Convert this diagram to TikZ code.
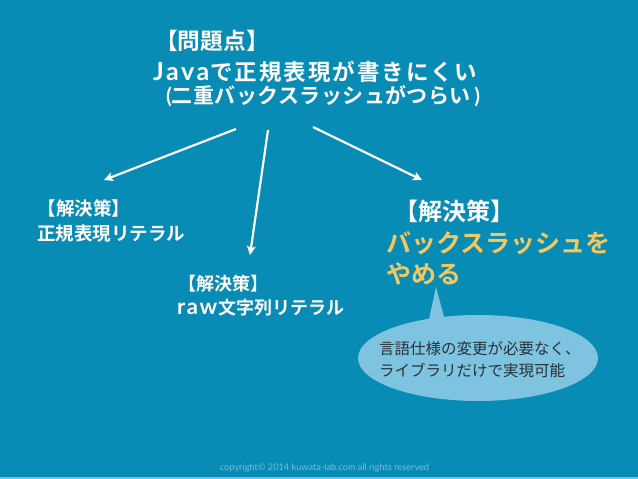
\documentclass[tikz,border=0pt]{standalone}
\usepackage{fontspec}
\setmainfont{Noto Sans CJK JP}[BoldFont={Noto Sans CJK JP Bold}]
\newfontfamily\latofont{Lato}
\usetikzlibrary{arrows.meta,shapes.geometric}
\definecolor{bg}{RGB}{8,139,180}
\definecolor{bubble}{RGB}{126,195,223}
\definecolor{gold}{RGB}{242,200,96}
\definecolor{strip}{RGB}{110,195,225}
\definecolor{foot}{RGB}{120,190,215}
\definecolor{bubbleink}{RGB}{40,50,55}
\newcommand{\fsz}[1]{\fontsize{#1}{#1}\selectfont}
\begin{document}
\begin{tikzpicture}[x=1pt,y=-1pt,
  txt/.style={anchor=base west,inner sep=0pt,text=white},
  arr/.style={draw=white,line width=2.2pt,-{Stealth[length=9pt,width=9pt,inset=2pt]}}]
\fill[bg] (0,0) rectangle (638,479);
\useasboundingbox (0,0) rectangle (638,479);
\fill[strip] (0,476.5) rectangle (638,479);
% problem
\node[txt,font=\bfseries\fsz{22.7}] (p1) at (155,49.5) {【問題点】};
\node[txt,font=\bfseries\fsz{22.5}] (p2) at (153,80) {{\latofont\bfseries\fsz{25}\makebox[57pt][s]{J\hfill a\hfill v\hfill a\hspace{1pt}}}\addfontfeatures{LetterSpace=9}で正規表現が書きにくい};
\node[txt,font=\bfseries\fsz{21}] (p3) at (166,103) {{\latofont\bfseries(}\addfontfeatures{LetterSpace=2}二重バックスラッシュがつらい{\latofont\bfseries\,)}};
% arrows
\coordinate (a1s) at (236,129);
\coordinate (a1e) at (104,180);
\coordinate (a2s) at (268,130);
\coordinate (a2e) at (250,255);
\coordinate (a3s) at (313,127);
\coordinate (a3e) at (422,180);
\draw[arr] (a1s) -- (a1e);
\draw[arr] (a2s) -- (a2e);
\draw[arr] (a3s) -- (a3e);
% left solution
\node[txt,font=\bfseries\fsz{18.5}] (l1) at (37.5,215.5) {【解決策】};
\node[txt,font=\bfseries\fsz{18.5}] (l2) at (37,240.5) {正規表現リテラル};
% middle solution
\node[txt,font=\bfseries\fsz{18}] (m1) at (178.5,290) {【解決策】};
\node[txt,font=\bfseries\fsz{18}] (m2) at (177,314.5) {{\latofont\bfseries\fsz{22}\makebox[41pt][s]{r\hfill a\hfill w\hspace{1pt}}}文字列リテラル};
% right solution
\node[txt,font=\bfseries\fsz{24}] (r1) at (394,220) {【解決策】};
\node[txt,font=\bfseries\fsz{25},text=gold] (r2) at (386,252.5) {バックスラッシュを};
\node[txt,font=\bfseries\fsz{25},text=gold] (r3) at (386,283) {やめる};
% callout
\coordinate (tip) at (436,287);
\fill[bubble] (tip) -- (428,324) -- (446,324) -- cycle;
\node[ellipse,fill=bubble,minimum width=240pt,minimum height=86pt,inner sep=0pt] (bub) at (478,358) {};
\node[txt,font=\fsz{15.5},text=bubbleink] (b1) at (379,354) {言語仕様の変更が必要なく、};
\node[txt,font=\fsz{15.5},text=bubbleink] (b2) at (379,376) {ライブラリだけで実現可能};
% footer
\node[anchor=base,inner sep=0pt,font=\latofont\fsz{9.2},text=foot] (ft) at (324.5,470) {copyright© 2014 kuwata-lab.com all rights reserved};
\end{tikzpicture}
\end{document}
